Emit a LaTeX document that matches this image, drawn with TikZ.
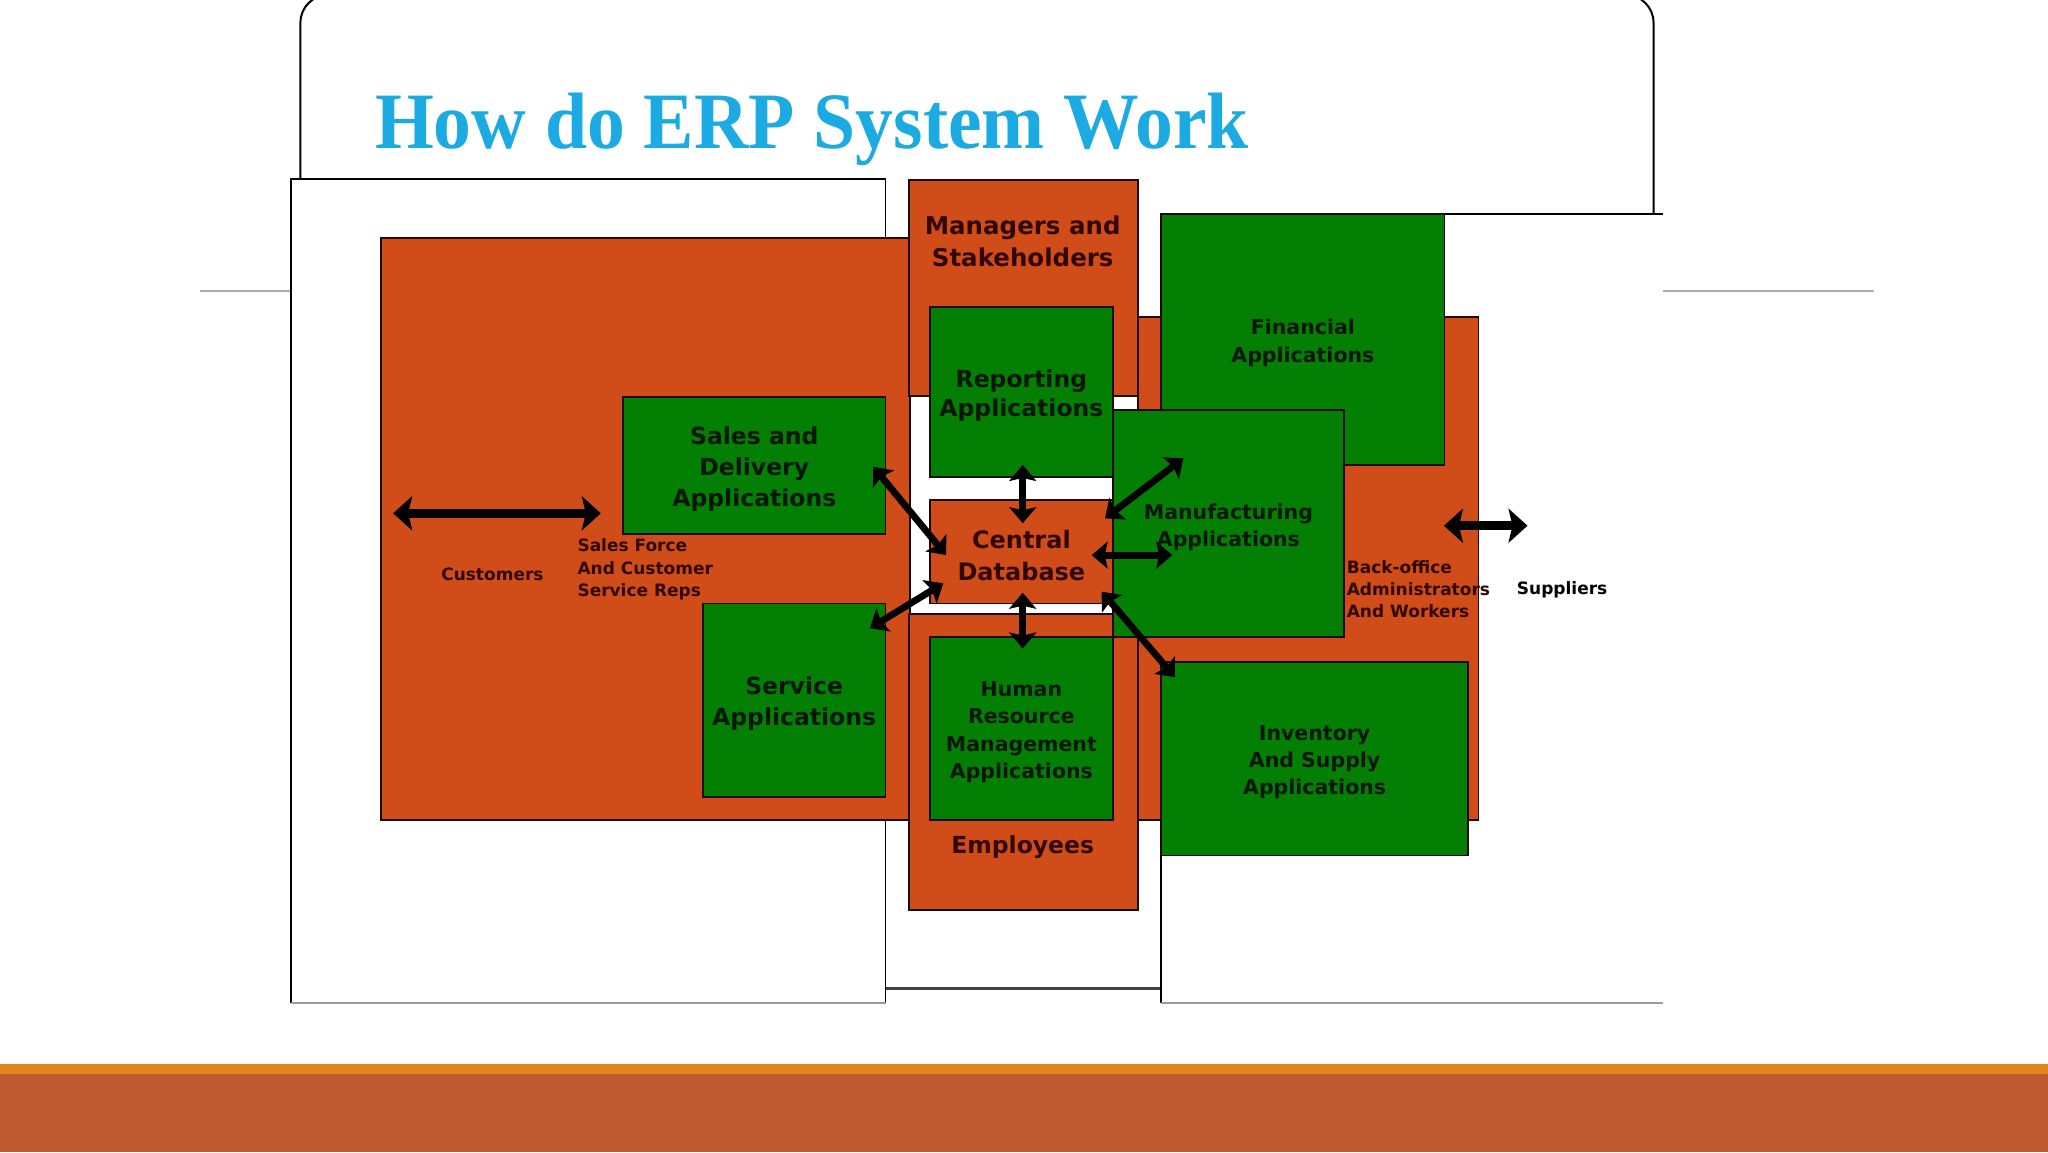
\documentclass[tikz,border=0pt]{standalone}
\usepackage{fontspec}
\setmainfont{DejaVu Sans}
\newfontfamily\bodyfont{DejaVu Sans}
\newfontfamily\titlefont[FakeStretch=0.945]{Liberation Serif}
\usetikzlibrary{arrows.meta,fit}
\definecolor{boxorange}{RGB}{208,77,26}
\definecolor{boxgreen}{RGB}{3,127,3}
\definecolor{boxline}{RGB}{30,10,5}
\definecolor{titleblue}{RGB}{28,170,226}
\definecolor{bandlight}{RGB}{226,134,28}
\definecolor{banddark}{RGB}{190,90,47}
\definecolor{txtorange}{RGB}{48,8,0}
\definecolor{txtgreen}{RGB}{8,22,4}
\definecolor{slidegray}{RGB}{170,170,170}
\newcommand\setfs[2]{\fontsize{#1}{#2}\selectfont}
\begin{document}
\begin{tikzpicture}[x=1.30612pt,y=-1.30612pt,
  panel/.style={inner sep=0pt, outer sep=0pt, fill=white},
  obox/.style={inner sep=0pt, outer sep=0pt, fill=boxorange, draw=boxline, line width=1.8pt},
  gbox/.style={inner sep=0pt, outer sep=0pt, fill=boxgreen, draw=boxline, line width=1.8pt},
  otext/.style={text=txtorange, align=center, inner sep=0pt},
  gtext/.style={text=txtgreen, align=center, inner sep=0pt, yshift=-3.5pt},
  edge/.style={draw=black, line width=1.8pt},
  softedge/.style={draw=gray!80, line width=1.6pt},
  dbl/.style={draw=black, line width=6.8pt,
    {Stealth[length=16pt,width=27pt,inset=3pt]}-{Stealth[length=16pt,width=27pt,inset=3pt]}},
  bigdbl/.style={draw=black, line width=9.5pt,
    {Stealth[length=19pt,width=34pt,inset=4pt]}-{Stealth[length=19pt,width=34pt,inset=4pt]}}
]
\useasboundingbox (0,0) rectangle (1568,882);
\fill[white] (0,0) rectangle (1568,882);

% slide decoration
\fill[bandlight] (0,814.7) rectangle (1568,822.5);
\fill[banddark] (0,822.5) rectangle (1568,882);
\draw[slidegray, line width=1.6pt] (153,223) -- (223,223);
\draw[slidegray, line width=1.6pt] (1273,223) -- (1435,223);

% rounded frame
\draw[black, line width=2pt, rounded corners=28pt] (230,137) -- (230,-4) -- (1266,-4) -- (1266,164);

% white panels
\node[panel, fit={(223,137) (678,768)}] (lpanel) {};
\node[panel, fit={(678,137) (889,757)}] (mpanel) {};
\node[panel, fit={(889,164) (1273,768)}] (rpanel) {};
\draw[edge] (lpanel.south west) -- (lpanel.north west) -- (lpanel.north east) -- (lpanel.south east);
\draw[softedge] (lpanel.south west) -- (lpanel.south east);
\draw[draw=black!75, line width=3pt] (mpanel.south west) -- (mpanel.south east);
\draw[edge] (rpanel.south west) -- (rpanel.north west) -- (rpanel.north east);
\draw[softedge] (rpanel.south west) -- (rpanel.south east);

% orange areas
\node[obox, fit={(292,182) (697,628)}] (custarea) {};
\node[obox, fit={(696,138) (871,303)}] (mgrarea) {};
\node[obox, fit={(696,470) (871,697)}] (emparea) {};
\node[obox, fit={(871,243) (1132,628)}] (backarea) {};

% green application boxes
\node[gbox, fit={(477,304) (678,409)}] (sales) {};
\node[gbox, fit={(538,462) (678,610)}] (service) {};
\node[gbox, fit={(712,235) (852,365)}] (report) {};
\node[gbox, fit={(712,488) (852,628)}] (hr) {};
\node[gbox, fit={(889,164) (1106,356)}] (fin) {};
\node[gbox, fit={(852,314) (1029,488)}] (manu) {};
\node[gbox, fit={(889,507) (1124,655)}] (inv) {};

% central database
\node[obox, fit={(712,383) (852,462)}] (cdb) {};

% arrow end points
\coordinate (custL) at (301,393);
\coordinate (custR) at (460,393);
\coordinate (suppL) at (1105.5,402.5);
\coordinate (suppR) at (1169.5,402.5);
\coordinate (salesA) at (668.6,357.3);
\coordinate (salesB) at (724.3,425);
\coordinate (repA) at (783,356);
\coordinate (repB) at (783,400.6);
\coordinate (hrA) at (783,453.8);
\coordinate (hrB) at (783,496.5);
\coordinate (manA) at (846,396.9);
\coordinate (manB) at (906,350.9);
\coordinate (manhA) at (835.8,425);
\coordinate (manhB) at (897.5,425);
\coordinate (servA) at (722.2,446.6);
\coordinate (servB) at (666,481);
\coordinate (invA) at (843.5,453);
\coordinate (invB) at (899.6,518.5);

\draw[bigdbl] (custL) -- (custR);
\draw[bigdbl] (suppL) -- (suppR);
\draw[dbl] (salesA) -- (salesB);
\draw[dbl] (repA) -- (repB);
\draw[dbl] (hrA) -- (hrB);
\draw[dbl] (manA) -- (manB);
\draw[dbl] (manhA) -- (manhB);
\draw[dbl] (servA) -- (servB);
\draw[dbl] (invA) -- (invB);

% title
\node[anchor=base west, inner sep=0pt, text=titleblue, font=\titlefont\bfseries\setfs{80}{90}] (title) at (287,113.5) {How do ERP System Work};

% labels
\node[otext, font=\bodyfont\bfseries\setfs{24.5}{31.7}] (mgrtxt) at (783,185) {Managers and\\Stakeholders};
\node[otext, font=\bodyfont\bfseries\setfs{23.5}{23.5}] (emptxt) at (783,648.5) {Employees};
\node[gtext, font=\bodyfont\bfseries\setfs{23.5}{29.3}] (reptxt) at (report.center) {Reporting\\Applications};
\node[gtext, font=\bodyfont\bfseries\setfs{23.5}{31.3}] (salestxt) at (sales.center) {Sales and\\Delivery\\Applications};
\node[gtext, font=\bodyfont\bfseries\setfs{23.5}{31.3}] (servtxt) at (service.center) {Service\\Applications};
\node[gtext, text=txtorange, font=\bodyfont\bfseries\setfs{24}{31.7}] (cdbtxt) at (cdb.center) {Central\\Database};
\node[gtext, font=\bodyfont\bfseries\setfs{20.5}{27.4}] (hrtxt) at (hr.center) {Human\\Resource\\Management\\Applications};
\node[gtext, font=\bodyfont\bfseries\setfs{20.5}{27.7}] (fintxt) at (fin.center) {Financial\\Applications};
\node[gtext, font=\bodyfont\bfseries\setfs{20.5}{26.7}] (mantxt) at (manu.center) {Manufacturing\\Applications};
\node[gtext, font=\bodyfont\bfseries\setfs{20.5}{26.8}] (invtxt) at (inv.center) {Inventory\\And Supply\\Applications};
\node[otext, font=\bodyfont\bfseries\setfs{17}{22.2}] (custtxt) at (377,439.5) {Customers};
\node[otext, align=left, anchor=west, font=\bodyfont\bfseries\setfs{17}{22.2}] (repstxt) at (442,436) {Sales Force\\And Customer\\Service Reps};
\node[otext, align=left, anchor=west, font=\bodyfont\bfseries\setfs{17}{22.3}] (backtxt) at (1031,451) {Back-office\\Administrators\\And Workers};
\node[text=black, inner sep=0pt, font=\bodyfont\bfseries\setfs{17}{22.2}] (supptxt) at (1196,451.5) {Suppliers};
\end{tikzpicture}
\end{document}
